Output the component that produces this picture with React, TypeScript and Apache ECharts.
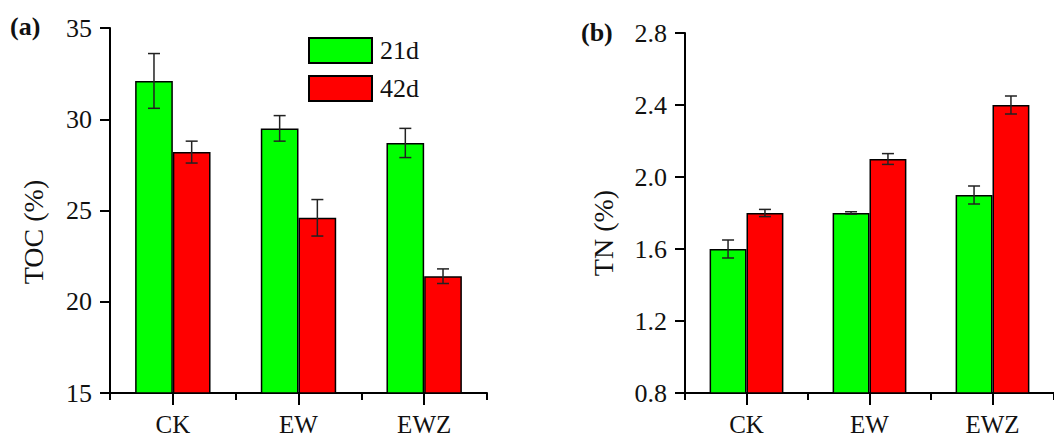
import React, { useEffect, useRef } from "react";
import * as echarts from "echarts";

const categories = ["CK", "EW", "EWZ"];
const seriesNames = ["21d", "42d"];

const toc21 = [32.1, 29.5, 28.7];
const toc21Err = [1.5, 0.7, 0.8];
const toc42 = [28.2, 24.6, 21.4];
const toc42Err = [0.6, 1.0, 0.4];

const tn21 = [1.6, 1.8, 1.9];
const tn21Err = [0.05, 0.007, 0.05];
const tn42 = [1.8, 2.1, 2.4];
const tn42Err = [0.02, 0.03, 0.05];

const tocAxis = { min: 15, max: 35, interval: 5 };
const tnAxis = { min: 0.8, max: 2.8, interval: 0.4 };

const FONT = "'Liberation Serif', 'Times New Roman', serif";
const GREEN = "#00ff00";
const RED = "#ff0000";

function errData(vals: number[], errs: number[]) {
  return vals.map((v, i) => [i, v - errs[i], v + errs[i]]);
}

function errSeries(name: string, data: number[][], side: number, idx: number) {
  return {
    name,
    type: "custom",
    xAxisIndex: idx * 2,
    yAxisIndex: idx,
    z: 5,
    encode: { x: 0, y: [1, 2] },
    data,
    renderItem: (params: any, api: any) => {
      const x = api.value(0);
      const lo = api.value(1);
      const hi = api.value(2);
      const pLo = api.coord([x, lo]);
      const pHi = api.coord([x, hi]);
      const band = api.size([1, 0])[0];
      const cx = pLo[0] + side * band * 0.15;
      const hw = 6;
      const style = { stroke: "#222", lineWidth: 1.5 };
      return {
        type: "group",
        children: [
          { type: "line", shape: { x1: cx, y1: pLo[1], x2: cx, y2: pHi[1] }, style },
          { type: "line", shape: { x1: cx - hw, y1: pLo[1], x2: cx + hw, y2: pLo[1] }, style },
          { type: "line", shape: { x1: cx - hw, y1: pHi[1], x2: cx + hw, y2: pHi[1] }, style },
        ],
      };
    },
  };
}

function barSeries(name: string, data: number[], color: string, idx: number) {
  return {
    name,
    type: "bar",
    xAxisIndex: idx * 2,
    yAxisIndex: idx,
    data,
    barWidth: "30%",
    barGap: "0%",
    itemStyle: { color, borderColor: "#000", borderWidth: 1.5 },
  };
}

function mainX(grid: number) {
  return {
    type: "category",
    gridIndex: grid,
    data: categories,
    position: "bottom",
    axisLine: { show: true, lineStyle: { color: "#000", width: 2 } },
    axisTick: { show: true, alignWithLabel: true, length: 12, lineStyle: { color: "#000", width: 2 } },
    axisLabel: { color: "#111", fontSize: 25, fontFamily: FONT, margin: 19 },
    splitLine: { show: false },
  };
}

function helperX(grid: number) {
  return {
    type: "category",
    gridIndex: grid,
    data: categories,
    position: "bottom",
    axisLine: { show: false },
    axisTick: { show: true, alignWithLabel: false, length: 7, lineStyle: { color: "#000", width: 2 } },
    axisLabel: { show: false },
    splitLine: { show: false },
  };
}

function yAxis(grid: number, cfg: any, fmt: (v: number) => string) {
  return {
    type: "value",
    gridIndex: grid,
    min: cfg.min,
    max: cfg.max,
    interval: cfg.interval,
    axisLine: { show: true, lineStyle: { color: "#000", width: 2 } },
    axisTick: { show: true, inside: false, length: 10, lineStyle: { color: "#000", width: 2 } },
    axisLabel: { color: "#111", fontSize: 26, fontFamily: FONT, margin: 18, formatter: fmt },
    splitLine: { show: false },
  };
}

function axisTitle(text: string, x: number, y: number) {
  return {
    type: "text",
    x,
    y,
    rotation: Math.PI / 2,
    style: {
      text,
      fontSize: 28,
      fontFamily: FONT,
      fill: "#111",
      align: "center",
      verticalAlign: "middle",
    },
  };
}

export default function App() {
  const ref = useRef<HTMLDivElement>(null);
  useEffect(() => {
    if (!ref.current) return;
    const chart = echarts.init(ref.current, undefined, { renderer: "svg" });
    chart.setOption({
      animation: false,
      backgroundColor: "#fff",
      grid: [
        { left: 110, top: 28, width: 377, height: 368 },
        { left: 685, top: 33, width: 377, height: 364 },
      ],
      legend: {
        data: seriesNames,
        orient: "vertical",
        left: 308,
        top: 37,
        padding: 0,
        itemWidth: 63,
        itemHeight: 25,
        itemGap: 11,
        icon: "rect",
        textStyle: { color: "#111", fontSize: 26, fontFamily: FONT, padding: [0, 0, 0, 3] },
      },
      xAxis: [mainX(0), helperX(0), mainX(1), helperX(1)],
      yAxis: [
        yAxis(0, tocAxis, (v: number) => String(v)),
        yAxis(1, tnAxis, (v: number) => v.toFixed(1)),
      ],
      graphic: [
        axisTitle("TOC (%)", 33, 232),
        axisTitle("TN (%)", 603, 233),
        {
          type: "text",
          left: 10,
          top: 13,
          style: { text: "(a)", fontSize: 26, fontWeight: "bold", fontFamily: FONT, fill: "#111" },
        },
        {
          type: "text",
          left: 581,
          top: 19,
          style: { text: "(b)", fontSize: 26, fontWeight: "bold", fontFamily: FONT, fill: "#111" },
        },
      ],
      series: [
        barSeries(seriesNames[0], toc21, GREEN, 0),
        barSeries(seriesNames[1], toc42, RED, 0),
        errSeries("err-toc-21", errData(toc21, toc21Err), -1, 0),
        errSeries("err-toc-42", errData(toc42, toc42Err), 1, 0),
        barSeries(seriesNames[0], tn21, GREEN, 1),
        barSeries(seriesNames[1], tn42, RED, 1),
        errSeries("err-tn-21", errData(tn21, tn21Err), -1, 1),
        errSeries("err-tn-42", errData(tn42, tn42Err), 1, 1),
      ],
    });
    return () => chart.dispose();
  }, []);
  return (
    <div
      ref={ref}
      style={{ position: "fixed", left: 0, top: 0, width: 1054, height: 437, background: "#fff" }}
    />
  );
}
